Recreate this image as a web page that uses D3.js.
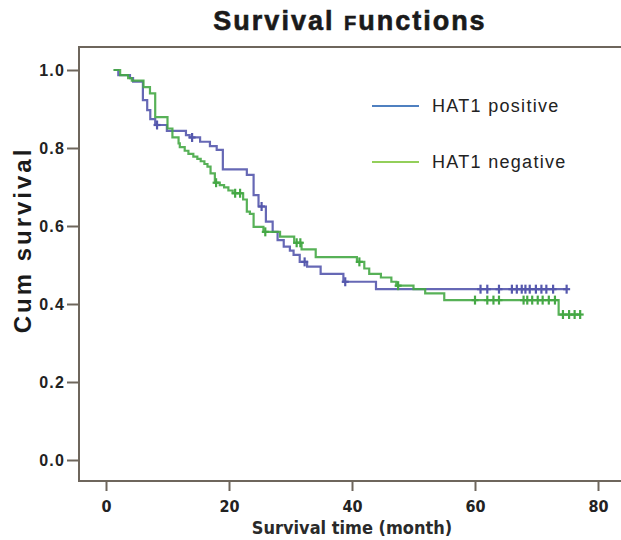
<!DOCTYPE html>
<html>
<head>
<meta charset="utf-8">
<script src="https://cdn.jsdelivr.net/npm/d3@7"></script>
<style>
  body { margin: 0; background: #fff; }
  svg { display: block; }
</style>
</head>
<body>
<div id="chart"></div>
<script>
// step times (month) and cumulative survival after each step
var posTimes = [1.3, 2.0, 3.9, 4.4, 6.0, 6.7, 7.2, 8.0, 9.9, 13.0, 13.6, 15.3, 16.9, 18.0, 19.0, 22.9, 24.0, 24.8, 26.0, 27.1, 27.9, 28.9, 29.9, 30.5, 31.5, 32.7, 34.9, 38.6, 43.9];
var posSurv = [1.0, 0.987, 0.979, 0.970, 0.923, 0.897, 0.874, 0.859, 0.844, 0.833, 0.827, 0.816, 0.805, 0.795, 0.745, 0.731, 0.679, 0.650, 0.611, 0.585, 0.564, 0.547, 0.537, 0.526, 0.508, 0.496, 0.477, 0.457, 0.438];
var posCensor = [8.3, 14.0, 25.3, 32.3, 38.9, 60.9, 62.0, 63.9, 66.0, 66.8, 67.6, 68.2, 68.9, 69.9, 70.8, 71.6, 72.7, 74.9];

var negTimes = [1.2, 2.3, 3.6, 4.2, 6.1, 7.15, 8.0, 10.0, 10.8, 11.8, 12.0, 12.8, 13.4, 14.2, 14.85, 15.4, 16.0, 16.5, 17.0, 17.7, 18.5, 19.2, 19.9, 20.6, 22.3, 22.9, 23.4, 24.0, 25.6, 28.3, 30.6, 31.8, 34.1, 40.8, 42.0, 42.8, 44.7, 46.4, 47.2, 50.0, 51.9, 55.0, 73.6];
var negSurv = [1.0, 0.987, 0.979, 0.973, 0.956, 0.940, 0.879, 0.850, 0.827, 0.812, 0.802, 0.793, 0.785, 0.778, 0.772, 0.766, 0.759, 0.752, 0.735, 0.711, 0.705, 0.699, 0.691, 0.684, 0.668, 0.637, 0.631, 0.598, 0.585, 0.573, 0.557, 0.540, 0.520, 0.508, 0.491, 0.477, 0.468, 0.457, 0.447, 0.438, 0.427, 0.410, 0.373];
var negCensor = [17.9, 21.0, 21.8, 25.9, 31.0, 31.6, 41.2, 47.5, 60.0, 62.0, 63.0, 63.9, 67.9, 68.5, 69.3, 70.2, 71.0, 72.0, 73.0, 74.3, 75.3, 76.2, 77.1];

var xTicks = [0, 20, 40, 60, 80];
var yTicks = [0.0, 0.2, 0.4, 0.6, 0.8, 1.0];
var legendLabels = ["HAT1 positive", "HAT1 negative"];

var width = 621, height = 540;
var svg = d3.select('#chart').append('svg').attr('width', width).attr('height', height);

var x = d3.scaleLinear().domain([0, 80]).range([106, 598]);
var y = d3.scaleLinear().domain([0, 1]).range([460, 70]);

var frameColor = '#6e665c';

// plot frame (right side runs off the picture)
svg.append('rect')
  .attr('x', 79).attr('y', 47)
  .attr('width', 600).attr('height', 434)
  .attr('fill', 'none').attr('stroke', frameColor).attr('stroke-width', 2);

// y axis
var yAxis = svg.append('g').attr('transform', 'translate(79,0)')
  .call(d3.axisLeft(y).tickValues(yTicks).tickSize(12).tickPadding(2).tickFormat(d3.format('.1f')));
yAxis.select('.domain').remove();
yAxis.selectAll('line').attr('stroke', frameColor).attr('stroke-width', 2);
yAxis.selectAll('text').attr('fill', '#222')
  .style('font-family', 'Liberation Sans, Arial, sans-serif')
  .style('font-weight', 'bold').style('font-size', '16px')
  .style('letter-spacing', '1.2px');

// x axis
var xAxis = svg.append('g').attr('transform', 'translate(0,481)')
  .call(d3.axisBottom(x).tickValues(xTicks).tickSize(10).tickPadding(10));
xAxis.select('.domain').remove();
xAxis.selectAll('line').attr('stroke', frameColor).attr('stroke-width', 2);
xAxis.selectAll('text').attr('fill', '#222')
  .style('font-family', 'DejaVu Sans Condensed, DejaVu Sans, sans-serif')
  .style('font-weight', 'bold').style('font-size', '16px');

// title
var title = svg.append('text')
  .attr('x', 350).attr('y', 30)
  .attr('text-anchor', 'middle')
  .attr('fill', '#1a1a1a')
  .style('font-family', 'Liberation Sans, Arial, sans-serif')
  .style('font-weight', 'bold').style('font-size', '27px')
  .style('stroke', '#1a1a1a').style('stroke-width', '0.6px')
  .style('letter-spacing', '2px');
title.append('tspan').text('Survival ');
title.append('tspan').style('font-size', '20px').text('F');
title.append('tspan').text('unctions');

// axis titles
svg.append('text')
  .attr('transform', 'translate(31,240) rotate(-90)')
  .attr('text-anchor', 'middle')
  .attr('fill', '#1a1a1a')
  .style('font-family', 'Liberation Sans, Arial, sans-serif')
  .style('font-weight', 'bold').style('font-size', '24px')
  .style('letter-spacing', '3px')
  .text('Cum survival');

svg.append('text')
  .attr('x', 352).attr('y', 534)
  .attr('text-anchor', 'middle')
  .attr('fill', '#2a2a2a')
  .style('font-family', 'DejaVu Sans Condensed, DejaVu Sans, sans-serif')
  .style('font-weight', 'bold').style('font-size', '18px')
  .text('Survival  time (month)');

// step curves
var groups = [
  { times: posTimes, surv: posSurv, censor: posCensor, color: '#5558ad' },
  { times: negTimes, surv: negSurv, censor: negCensor, color: '#45a845' }
];

function survAt(g, t) {
  var s = g.surv[0];
  for (var i = 0; i < g.times.length; i++) {
    if (g.times[i] <= t) s = g.surv[i];
  }
  return s;
}

var line = d3.line()
  .x(function(d) { return x(d[0]); })
  .y(function(d) { return y(d[1]); })
  .curve(d3.curveStepAfter);

groups.forEach(function(g) {
  var pts = g.times.map(function(t, i) { return [t, g.surv[i]]; });
  var end = d3.max(g.censor);
  pts.push([end, g.surv[g.surv.length - 1]]);

  svg.append('path')
    .datum(pts)
    .attr('d', line)
    .attr('fill', 'none')
    .attr('stroke', g.color)
    .attr('stroke-width', 2.2)
    .attr('stroke-opacity', 0.9);

  var marks = svg.append('g').attr('stroke', g.color).attr('stroke-width', 2.2);
  g.censor.forEach(function(t) {
    var cx = x(t), cy = y(survAt(g, t));
    marks.append('line').attr('x1', cx).attr('x2', cx).attr('y1', cy - 4.5).attr('y2', cy + 4.5);
    marks.append('line').attr('x1', cx - 3.5).attr('x2', cx + 3.5).attr('y1', cy).attr('y2', cy);
  });
});

// legend
var legendColors = ['#4f80c0', '#93cf5a'];
var legend = svg.append('g');
legendLabels.forEach(function(label, i) {
  var ly = 106 + i * 56;
  legend.append('line')
    .attr('x1', 372).attr('x2', 419).attr('y1', ly).attr('y2', ly)
    .attr('stroke', legendColors[i]).attr('stroke-width', 2);
  legend.append('text')
    .attr('x', 432).attr('y', ly + 6)
    .attr('fill', '#222')
    .style('font-family', 'Liberation Sans, Arial, sans-serif')
    .style('font-size', '18px')
    .style('letter-spacing', '1.3px')
    .text(label);
});
</script>
</body>
</html>
